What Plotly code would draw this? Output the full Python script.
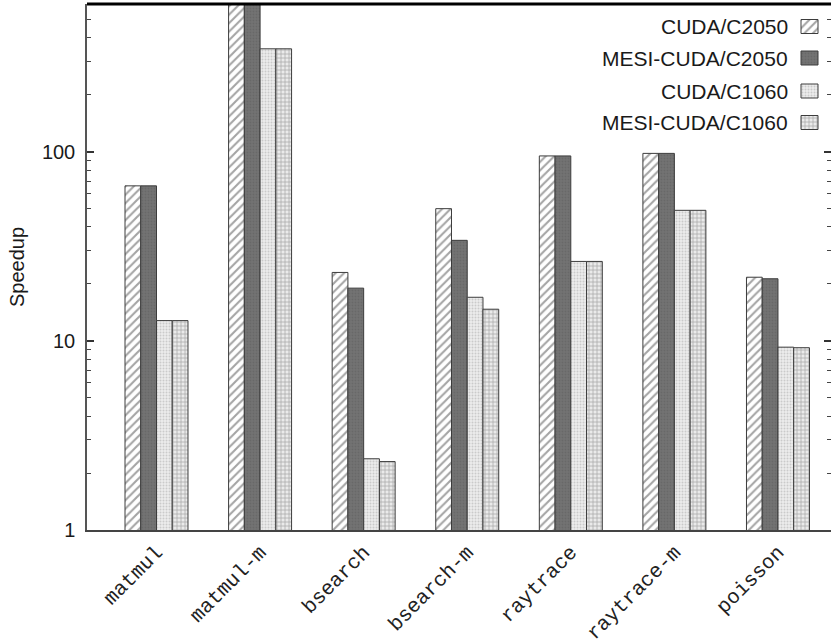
import plotly.graph_objects as go

# Benchmarks and measured speedups (log scale)
benchmarks = ["matmul", "matmul-m", "bsearch", "bsearch-m", "raytrace", "raytrace-m", "poisson"]
series_names = ["CUDA/C2050", "MESI-CUDA/C2050", "CUDA/C1060", "MESI-CUDA/C1060"]
cuda_c2050 = [66, 640, 23, 50, 95, 98, 21.7]
mesi_c2050 = [66, 640, 19, 34, 95, 98, 21.3]
cuda_c1060 = [12.8, 350, 2.38, 17, 26.3, 49, 9.26]
mesi_c1060 = [12.8, 350, 2.30, 14.7, 26.3, 49, 9.2]
y_tick_values = [1, 10, 100]

series_values = [cuda_c2050, mesi_c2050, cuda_c1060, mesi_c1060]

OUTLINE = "#3c3c3c"
styles = [
    dict(color="white", pattern=dict(shape="/", fgcolor="#4a4a4a", bgcolor="white", size=6, solidity=0.35)),
    dict(color="#6c6c6c", pattern=dict(shape=".", fgcolor="#5e5e5e", bgcolor="#737373", size=3, solidity=0.3)),
    dict(color="#e2e2e2", pattern=dict(shape=".", fgcolor="#a8a8a8", bgcolor="#ececec", size=3, solidity=0.35)),
    dict(color="#e0e0e0", pattern=dict(shape="+", fgcolor="#6a6a6a", bgcolor="#eaeaea", size=4, solidity=0.35)),
]

fig = go.Figure()
for name, vals, st in zip(series_names, series_values, styles):
    fig.add_trace(go.Bar(
        x=benchmarks, y=vals, name=name,
        marker=dict(color=st["color"], pattern=st["pattern"],
                    line=dict(color=OUTLINE, width=1)),
        showlegend=False,
    ))

# Key: text on the left, patterned swatch on the right (drawn on an overlay axis in pixel units)
key_x0, key_x1 = 801, 818
key_rows = [(19.5, 33.5), (51, 65), (84, 98), (115.5, 129.5)]
for name, st, (ya, yb) in zip(series_names, styles, key_rows):
    fig.add_trace(go.Scatter(
        x=[key_x0, key_x1, key_x1, key_x0, key_x0],
        y=[ya, ya, yb, yb, ya],
        xaxis="x2", yaxis="y2", mode="lines", fill="toself",
        fillcolor=st["pattern"]["bgcolor"],
        fillpattern=dict(shape=st["pattern"]["shape"], fgcolor=st["pattern"]["fgcolor"],
                         bgcolor=st["pattern"]["bgcolor"], size=st["pattern"]["size"],
                         solidity=st["pattern"]["solidity"]),
        line=dict(color=OUTLINE, width=1),
        showlegend=False, hoverinfo="skip",
    ))
    fig.add_annotation(
        x=790, y=(ya + yb) / 2, xref="x2", yref="y2", text=name, showarrow=False,
        xanchor="right", yanchor="middle",
        font=dict(family="Liberation Sans, Arial, sans-serif", size=21, color="#1a1a1a"),
    )

minor_vals = [m * d for d in (1, 10, 100) for m in range(2, 10)]

fig.update_layout(
    width=831, height=644,
    margin=dict(l=87, r=0, t=4, b=114),
    paper_bgcolor="white", plot_bgcolor="white",
    barmode="group", bargap=0.392, bargroupgap=0,
    font=dict(family="Liberation Sans, Arial, sans-serif", size=20, color="#1a1a1a"),
    xaxis=dict(
        range=[-0.671, 6.512],
        showline=True, linecolor="#444444", linewidth=2,
        ticks="", tickangle=-45, showgrid=False, zeroline=False,
        tickfont=dict(family="Liberation Mono, Courier New, monospace", size=20.5, color="#222222"),
        ticklabelstandoff=0,
        automargin=False,
    ),
    yaxis=dict(
        type="log", range=[0, 2.781],
        tickvals=y_tick_values, ticktext=[str(v) for v in y_tick_values],
        ticks="inside", ticklen=7, tickwidth=1.5, tickcolor="#333333",
        showline=True, linecolor="#555555", linewidth=1.5, mirror="ticks",
        showgrid=False, zeroline=False,
        ticklabelstandoff=6,
        minor=dict(tickvals=minor_vals, ticks="inside", ticklen=4, tickwidth=1.2,
                   tickcolor="#444444", showgrid=False),
        title=dict(text="Speedup", standoff=12, font=dict(size=20)),
        automargin=False,
    ),
    xaxis2=dict(overlaying="x", range=[87, 831], visible=False, fixedrange=True),
    yaxis2=dict(overlaying="y", range=[530, 4], visible=False, fixedrange=True),
    shapes=[dict(type="line", xref="paper", yref="paper", x0=0, x1=1, y0=1, y1=1,
                 line=dict(color="black", width=3))],
)

fig.write_html("out.html")
